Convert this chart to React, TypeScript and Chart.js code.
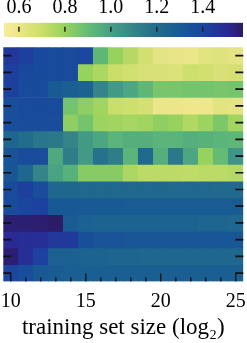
import React, { useEffect, useRef } from 'react';
import { Chart, registerables } from 'chart.js';
Chart.register(...registerables);

// x categories (log2 of training set size)
const xLabels = [10, 11, 12, 13, 14, 15, 16, 17, 18, 19, 20, 21, 22, 23, 24, 25];
const xShown = [10, 15, 20, 25];
const xTitle = 'training set size (log\u2082)';

// colorbar
const cbMin = 0.535;
const cbMax = 1.575;
const cbTicks = [0.6, 0.8, 1.0, 1.2, 1.4];

// heatmap rows (top to bottom)
const row0 = [1.45, 1.42, 1.38, 1.37, 1.37, 1.38, 0.92, 0.8, 0.74, 0.68, 0.62, 0.61, 0.6, 0.63, 0.64, 0.62];
const row1 = [1.42, 1.38, 1.37, 1.37, 1.37, 0.8, 0.76, 0.7, 0.68, 0.66, 0.66, 0.65, 0.69, 0.68, 0.66, 0.67];
const row2 = [1.42, 1.37, 1.37, 1.3, 1.27, 1.25, 1.1, 1.02, 0.98, 0.92, 0.86, 0.86, 0.87, 0.87, 0.86, 0.87];
const row3 = [1.35, 1.37, 1.37, 1.37, 0.87, 0.82, 0.78, 0.7, 0.69, 0.67, 0.6, 0.6, 0.59, 0.59, 0.63, 0.62];
const row4 = [1.35, 1.36, 1.36, 1.36, 0.82, 0.87, 0.79, 0.78, 0.77, 0.78, 0.82, 0.8, 0.75, 0.79, 0.85, 0.78];
const row5 = [1.24, 1.2, 1.16, 1.15, 1.1, 1.02, 0.98, 0.93, 0.95, 0.95, 0.93, 0.93, 0.95, 0.94, 0.93, 0.92];
const row6 = [1.33, 1.36, 1.36, 0.97, 1.13, 1.02, 1.18, 1.13, 0.93, 1.22, 0.95, 1.15, 0.98, 0.8, 0.9, 1.04];
const row7 = [1.32, 1.23, 1.1, 0.99, 0.94, 0.83, 0.83, 0.83, 0.76, 0.73, 0.73, 0.73, 0.72, 0.73, 0.73, 0.74];
const row8 = [1.37, 1.42, 1.36, 1.23, 1.23, 1.22, 1.22, 1.22, 1.22, 1.22, 1.22, 1.21, 1.22, 1.22, 1.21, 1.21];
const row9 = [1.37, 1.39, 1.41, 1.31, 1.31, 1.3, 1.3, 1.3, 1.29, 1.29, 1.29, 1.29, 1.29, 1.29, 1.29, 1.29];
const row10 = [1.55, 1.55, 1.56, 1.57, 1.29, 1.26, 1.25, 1.25, 1.25, 1.25, 1.25, 1.25, 1.25, 1.24, 1.24, 1.23];
const row11 = [1.5, 1.49, 1.48, 1.45, 1.44, 1.35, 1.33, 1.33, 1.32, 1.32, 1.32, 1.32, 1.32, 1.32, 1.32, 1.32];
const row12 = [1.55, 1.48, 1.41, 1.26, 1.26, 1.25, 1.25, 1.24, 1.24, 1.23, 1.23, 1.23, 1.23, 1.23, 1.23, 1.23];
const row13 = [1.39, 1.36, 1.31, 1.29, 1.28, 1.28, 1.28, 1.28, 1.28, 1.28, 1.28, 1.28, 1.28, 1.28, 1.28, 1.28];
const rows = [row0, row1, row2, row3, row4, row5, row6, row7, row8, row9, row10, row11, row12, row13];

// colormap stops (value, colour)
const cmapStops: [number, string][] = [
  [0.535, '#f8ec98'],
  [0.6, '#ece68a'],
  [0.7, '#cade6a'],
  [0.8, '#98d25e'],
  [0.9, '#64bc74'],
  [1.0, '#46a084'],
  [1.1, '#348488'],
  [1.2, '#226c8c'],
  [1.3, '#185a94'],
  [1.4, '#1a44a0'],
  [1.5, '#2a2a94'],
  [1.575, '#2c1a64'],
];

const FONT = "'Liberation Serif', 'Times New Roman', serif";

function hexRgb(h: string) {
  const n = parseInt(h.slice(1), 16);
  return [(n >> 16) & 255, (n >> 8) & 255, n & 255];
}
function colorFor(v: number) {
  if (v <= cmapStops[0][0]) return cmapStops[0][1];
  for (let i = 1; i < cmapStops.length; i++) {
    const [v1, c1] = cmapStops[i];
    const [v0, c0] = cmapStops[i - 1];
    if (v <= v1) {
      const t = (v - v0) / (v1 - v0);
      const a = hexRgb(c0), b = hexRgb(c1);
      const m = a.map((x, k) => Math.round(x + (b[k] - x) * t));
      return `rgb(${m[0]},${m[1]},${m[2]})`;
    }
  }
  return cmapStops[cmapStops.length - 1][1];
}

const heatTicks = {
  id: 'heatTicks',
  afterDatasetsDraw(chart: any) {
    const { ctx, chartArea, scales } = chart;
    const xs = scales.x, ys = scales.y;
    ctx.save();
    ctx.strokeStyle = '#111';
    ctx.lineWidth = 1.7;
    rows.forEach((_, i) => {
      const y = ys.getPixelForValue(i + 0.5);
      ctx.beginPath();
      ctx.moveTo(chartArea.left, y);
      ctx.lineTo(chartArea.left + 8, y);
      ctx.moveTo(chartArea.right - 8, y);
      ctx.lineTo(chartArea.right, y);
      ctx.stroke();
    });
    ctx.lineWidth = 1.3;
    xLabels.forEach((lab, j) => {
      const x = xs.getPixelForValue(j);
      const len = xShown.includes(lab) ? 8 : 4;
      ctx.beginPath();
      ctx.moveTo(x, chartArea.bottom);
      ctx.lineTo(x, chartArea.bottom - len);
      ctx.stroke();
    });
    ctx.restore();
  },
};

const cbTickMarks = {
  id: 'cbTickMarks',
  afterDatasetsDraw(chart: any) {
    const { ctx, chartArea, scales } = chart;
    const xs = scales.x;
    ctx.save();
    ctx.strokeStyle = '#222';
    ctx.lineWidth = 1.5;
    xs.ticks.forEach((t: any) => {
      const x = xs.getPixelForValue(t.value);
      ctx.beginPath();
      ctx.moveTo(x, chartArea.top + 4);
      ctx.lineTo(x, chartArea.top + 9);
      ctx.stroke();
    });
    ctx.restore();
  },
};

export default function App() {
  const heatRef = useRef<HTMLCanvasElement>(null);
  const cbRef = useRef<HTMLCanvasElement>(null);

  useEffect(() => {
    const heat = new Chart(heatRef.current as HTMLCanvasElement, {
      type: 'bar',
      data: {
        labels: xLabels.map(String),
        datasets: rows.map((r, i) => ({
          label: 'row ' + i,
          data: r.map(() => 1),
          backgroundColor: r.map(colorFor),
          borderWidth: 0,
          barPercentage: 1,
          categoryPercentage: 1,
          stack: 'cells',
        })),
      },
      options: {
        responsive: false,
        animation: false,
        layout: { padding: { left: 3.3, right: 3.7, top: 47.3, bottom: 0 } },
        plugins: { legend: { display: false }, tooltip: { enabled: false } },
        scales: {
          x: {
            stacked: true,
            grid: { display: false, drawTicks: false },
            border: { display: false },
            ticks: {
              autoSkip: false,
              maxRotation: 0,
              padding: 8,
              color: '#000',
              font: { family: FONT, size: 20 },
              callback: (_v: any, i: number) => (xShown.includes(xLabels[i]) ? String(xLabels[i]) : ''),
            },
            title: {
              display: true,
              text: xTitle,
              color: '#000',
              font: { family: FONT, size: 23 },
              padding: { top: 0, bottom: 1 },
            },
            afterFit: (s: any) => {
              s.height = 61.5;
              s.paddingLeft = 0;
              s.paddingRight = 0;
            },
          },
          y: { stacked: true, reverse: true, min: 0, max: rows.length, display: false },
        },
      },
      plugins: [heatTicks],
    } as any);

    const cb = new Chart(cbRef.current as HTMLCanvasElement, {
      type: 'bar',
      data: {
        labels: ['colorbar'],
        datasets: [
          {
            data: [[cbMin, cbMax]],
            backgroundColor: (c: any) => {
              const chart = c.chart;
              if (!chart.chartArea) return '#888';
              const xs = chart.scales.x;
              const g = chart.ctx.createLinearGradient(xs.getPixelForValue(cbMin), 0, xs.getPixelForValue(cbMax), 0);
              cmapStops.forEach(([v, col]) => g.addColorStop((v - cbMin) / (cbMax - cbMin), col));
              return g;
            },
            borderWidth: 0,
            barPercentage: 1,
            categoryPercentage: 1,
          },
        ],
      },
      options: {
        indexAxis: 'y',
        responsive: false,
        animation: false,
        layout: { padding: { left: 4, right: 4, top: 0, bottom: 0 } },
        plugins: { legend: { display: false }, tooltip: { enabled: false } },
        scales: {
          x: {
            position: 'top',
            min: cbMin,
            max: cbMax,
            grid: { display: false, drawTicks: false },
            border: { display: false },
            afterBuildTicks: (s: any) => {
              s.ticks = cbTicks.map((v) => ({ value: v }));
            },
            ticks: {
              padding: 2.5,
              color: '#000',
              font: { family: FONT, size: 20 },
              callback: (v: any) => Number(v).toFixed(1),
            },
            afterFit: (s: any) => {
              s.height = 22.7;
              s.paddingLeft = 0;
              s.paddingRight = 0;
            },
          },
          y: { display: false },
        },
      },
      plugins: [cbTickMarks],
    } as any);

    return () => {
      heat.destroy();
      cb.destroy();
    };
  }, []);

  return (
    <div style={{ position: 'fixed', left: 0, top: 0, width: 247, height: 343, background: '#fff' }}>
      <canvas ref={heatRef} width={247} height={343} style={{ position: 'absolute', left: 0, top: 0, width: 247, height: 343 }} />
      <canvas ref={cbRef} width={247} height={37} style={{ position: 'absolute', left: 0, top: 0, width: 247, height: 37 }} />
    </div>
  );
}
